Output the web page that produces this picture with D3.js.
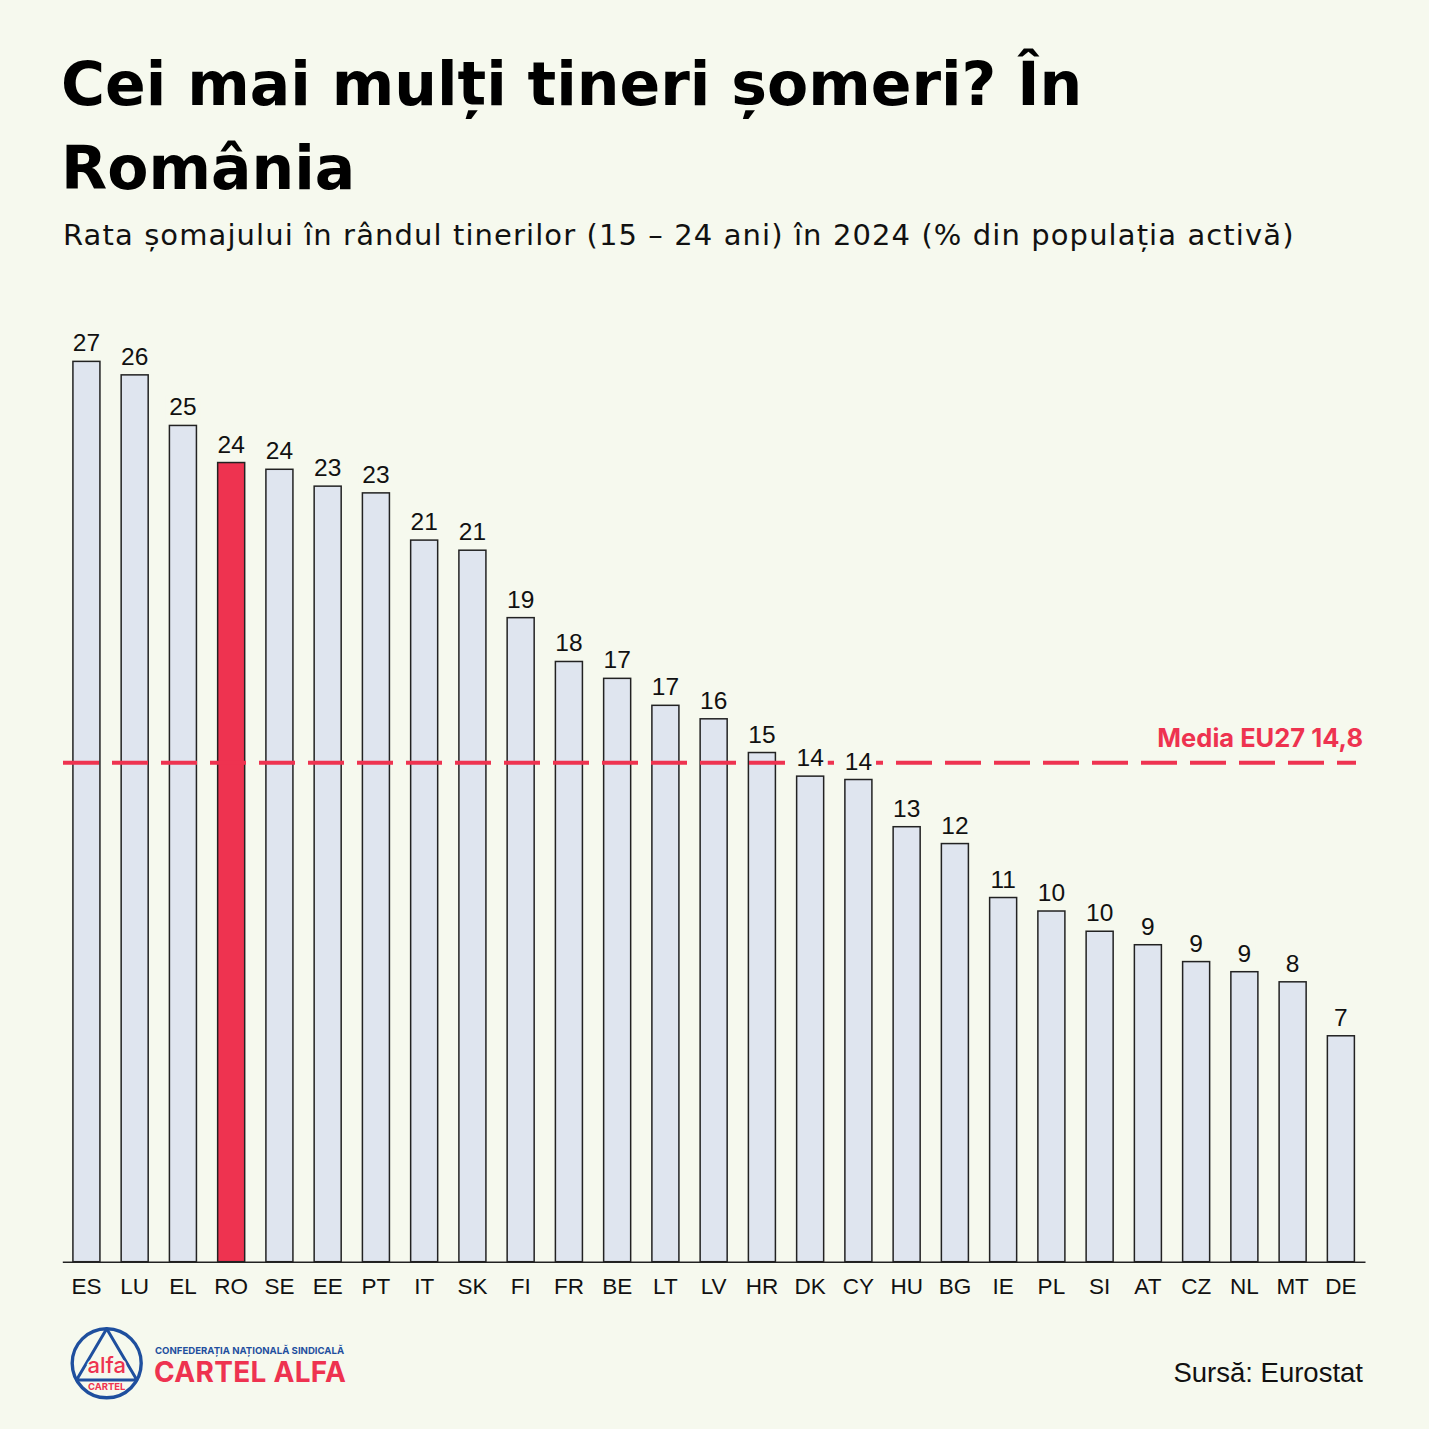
<!DOCTYPE html>
<html>
<head>
<meta charset="utf-8">
<script src="https://cdn.jsdelivr.net/npm/d3@7"></script>
<style>
  html, body { margin: 0; padding: 0; background: #f6f9ee; }
  svg { display: block; }
</style>
</head>
<body>
<script>
// ---- DATA ----
const countries = ["ES","LU","EL","RO","SE","EE","PT","IT","SK","FI","FR","BE","LT","LV","HR","DK","CY","HU","BG","IE","PL","SI","AT","CZ","NL","MT","DE"];
const rates = [26.7,26.3,24.8,23.7,23.5,23.0,22.8,21.4,21.1,19.1,17.8,17.3,16.5,16.1,15.1,14.4,14.3,12.9,12.4,10.8,10.4,9.8,9.4,8.9,8.6,8.3,6.7];
const highlight = ["RO"];
const euAverage = 14.8;
const euAverageLabel = "Media EU27 14,8";
const titleLines = ["Cei mai mulți tineri șomeri? În", "România"];
const subtitle = "Rata șomajului în rândul tinerilor (15 – 24 ani) în 2024 (% din populația activă)";
const source = "Sursă: Eurostat";

const W = 1429, H = 1429;
const BG = "#f6f9ee", BAR = "#dfe5ef", RED = "#ee3350", INK = "#111111", BLUE = "#1f4f9e";

const svg = d3.select("body").append("svg").attr("width", W).attr("height", H);
svg.append("rect").attr("width", W).attr("height", H).attr("fill", BG);

// Title
const title = svg.append("text")
  .attr("font-family", "'DejaVu Sans', sans-serif")
  .attr("font-weight", 700).attr("font-size", 60).attr("fill", "#000");
titleLines.forEach((t, i) => {
  title.append("tspan").attr("x", 61).attr("y", 105 + i * 84).text(t);
});
svg.append("text")
  .attr("x", 63).attr("y", 245)
  .attr("font-family", "'DejaVu Sans', sans-serif")
  .attr("font-size", 29).attr("letter-spacing", 1.1).attr("fill", INK)
  .text(subtitle);

// Scales
const x = d3.scaleBand().domain(countries).range([62.3, 1365]).paddingInner(0.44).paddingOuter(0.22);
const y = d3.scaleLinear().domain([0, 30]).range([1261.7, 1261.7 - 30 * 33.72]);

const data = countries.map((c, i) => ({ c, v: rates[i] }));

// Bars
svg.append("g").selectAll("rect").data(data).join("rect")
  .attr("x", d => x(d.c))
  .attr("y", d => y(d.v))
  .attr("width", x.bandwidth())
  .attr("height", d => y(0) - y(d.v))
  .attr("fill", d => highlight.includes(d.c) ? RED : BAR)
  .attr("stroke", "#222").attr("stroke-width", 1.5);

// Axis
const axis = svg.append("g").attr("transform", `translate(0,${y(0)})`)
  .call(d3.axisBottom(x).tickSize(0).tickPadding(16));
axis.select(".domain").attr("stroke", "#222").attr("stroke-width", 1.6);
axis.selectAll("text")
  .attr("font-family", "'Liberation Sans', Arial, sans-serif")
  .attr("font-size", 22.5).attr("fill", INK);

// Average line
svg.append("line")
  .attr("x1", 63).attr("x2", 1356)
  .attr("y1", y(euAverage)).attr("y2", y(euAverage))
  .attr("stroke", RED).attr("stroke-width", 4)
  .attr("stroke-dasharray", "36,13");

// Value labels (with background masks)
const lab = svg.append("g");
const labels = lab.selectAll("g").data(data).join("g");
labels.append("text")
  .attr("x", d => x(d.c) + x.bandwidth() / 2)
  .attr("y", d => y(d.v) - 10)
  .attr("text-anchor", "middle")
  .attr("font-family", "'Liberation Sans', Arial, sans-serif")
  .attr("font-size", 24.5).attr("fill", INK)
  .text(d => Math.round(d.v));
labels.each(function() {
  const g = d3.select(this);
  const t = g.select("text").node();
  const b = t.getBBox();
  g.insert("rect", "text")
    .attr("x", b.x - 4).attr("y", b.y + 2)
    .attr("width", b.width + 8).attr("height", b.height - 2)
    .attr("fill", BG);
});

svg.append("text")
  .attr("x", 1363).attr("y", 747)
  .attr("text-anchor", "end")
  .attr("font-family", "Inter, 'Noto Sans', sans-serif")
  .attr("font-weight", 700).attr("font-size", 25.5).attr("fill", RED)
  .text(euAverageLabel);

// Source
svg.append("text")
  .attr("x", 1363).attr("y", 1382)
  .attr("text-anchor", "end")
  .attr("font-family", "'Liberation Sans', Arial, sans-serif")
  .attr("font-size", 27.5).attr("fill", INK)
  .text(source);

// Logo
const logo = svg.append("g");
const cx = 106.7, cy = 1363.3, r = 34.5;
logo.append("circle").attr("cx", cx).attr("cy", cy).attr("r", r)
  .attr("fill", "none").attr("stroke", BLUE).attr("stroke-width", 3.4);
const by = 1380, hw = Math.sqrt(r * r - (by - cy) * (by - cy));
logo.append("path")
  .attr("d", `M${cx},${cy - r} L${cx - hw},${by} L${cx + hw},${by} Z`)
  .attr("fill", "none").attr("stroke", BLUE).attr("stroke-width", 3).attr("stroke-linejoin", "round");
logo.append("text").attr("x", cx).attr("y", 1372.5).attr("text-anchor", "middle")
  .attr("font-family", "Inter, sans-serif").attr("font-weight", 500)
  .attr("font-size", 22).attr("fill", RED).attr("stroke", BG).attr("stroke-width", 3)
  .attr("paint-order", "stroke").text("alfa");
logo.append("text").attr("x", cx).attr("y", 1390).attr("text-anchor", "middle")
  .attr("font-family", "Inter, sans-serif").attr("font-weight", 700)
  .attr("font-size", 9.5).attr("fill", RED).text("CARTEL");
logo.append("text").attr("x", 155).attr("y", 1354)
  .attr("font-family", "Inter, sans-serif").attr("font-weight", 700)
  .attr("font-size", 9.6).attr("fill", BLUE).text("CONFEDERAȚIA NAȚIONALĂ SINDICALĂ");
logo.append("text").attr("x", 154).attr("y", 1382)
  .attr("font-family", "Inter, sans-serif").attr("font-weight", 700)
  .attr("font-size", 28).attr("letter-spacing", 0.3).attr("fill", RED).text("CARTEL ALFA");
</script>
</body>
</html>
